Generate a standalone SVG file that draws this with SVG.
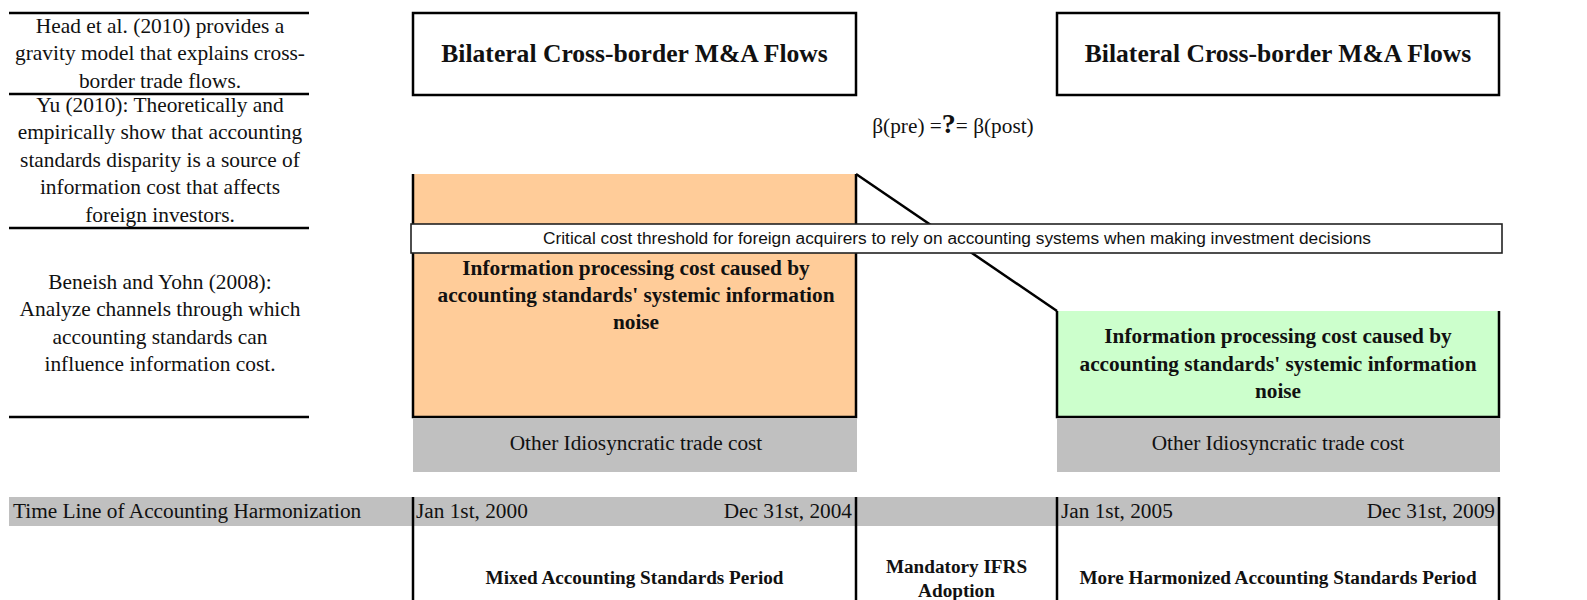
<svg xmlns="http://www.w3.org/2000/svg" width="1587" height="600" viewBox="0 0 1587 600">
  <style>
    .serif { font-family: "Liberation Serif", "Times New Roman", serif; fill: #111; }
    .note { font-size: 21.4px; text-anchor: middle; }
    .reg { font-size: 21.3px; }
    .title { font-size: 25.6px; font-weight: bold; text-anchor: middle; }
    .cost { font-size: 21.3px; font-weight: bold; text-anchor: middle; }
    .period { font-size: 19.2px; font-weight: bold; text-anchor: middle; }
    .sans { font-family: "Liberation Sans", Arial, sans-serif; font-size: 17.3px; fill: #111; text-anchor: middle; }
    .rule { stroke: #000; stroke-width: 2.5; fill: none; }
    .box { stroke: #000; stroke-width: 2.5; fill: #fff; }
    .gray { fill: #c0c0c0; }
  </style>

  <rect width="1587" height="600" fill="#fff"/>

  <!-- literature notes, left column -->
  <g id="note-head">
    <line class="rule" x1="9" y1="13" x2="309" y2="13"/>
    <text class="serif note" x="160" y="33">Head et al. (2010) provides a</text>
    <text class="serif note" x="160" y="60.3">gravity model that explains cross-</text>
    <text class="serif note" x="160" y="87.5">border trade flows.</text>
  </g>
  <g id="note-yu">
    <line class="rule" x1="9" y1="94" x2="309" y2="94"/>
    <text class="serif note" x="160" y="112">Yu (2010): Theoretically and</text>
    <text class="serif note" x="160" y="139.4">empirically show that accounting</text>
    <text class="serif note" x="160" y="166.8">standards disparity is a source of</text>
    <text class="serif note" x="160" y="194.2">information cost that affects</text>
    <text class="serif note" x="160" y="221.6">foreign investors.</text>
  </g>
  <g id="note-beneish">
    <line class="rule" x1="9" y1="228" x2="309" y2="228"/>
    <text class="serif note" x="160" y="289">Beneish and Yohn (2008):</text>
    <text class="serif note" x="160" y="316.3">Analyze channels through which</text>
    <text class="serif note" x="160" y="343.6">accounting standards can</text>
    <text class="serif note" x="160" y="371">influence information cost.</text>
    <line class="rule" x1="9" y1="417" x2="309" y2="417"/>
  </g>

  <!-- M&A flow headers -->
  <g id="flows-pre">
    <rect class="box" x="413" y="13" width="443" height="82"/>
    <text class="serif title" x="634.5" y="62.3">Bilateral Cross-border M&amp;A Flows</text>
  </g>
  <g id="flows-post">
    <rect class="box" x="1057" y="13" width="442" height="82"/>
    <text class="serif title" x="1278" y="62.3">Bilateral Cross-border M&amp;A Flows</text>
  </g>

  <!-- beta comparison -->
  <g id="beta">
    <text class="serif reg" x="953" y="133" text-anchor="middle">β(pre) =<tspan font-weight="bold" font-size="28">?</tspan>= β(post)</text>
  </g>

  <!-- information processing cost, pre-period -->
  <g id="cost-pre">
    <rect x="413" y="174" width="443" height="243" fill="#ffcc99"/>
    <polyline class="rule" points="413,174 413,417 856,417 856,174"/>
    <text class="serif cost" x="636" y="275">Information processing cost caused by</text>
    <text class="serif cost" x="636" y="302.2">accounting standards' systemic information</text>
    <text class="serif cost" x="636" y="329.3">noise</text>
  </g>

  <!-- information processing cost, post-period -->
  <g id="cost-post">
    <rect x="1057" y="311" width="442" height="106" fill="#ccffcc"/>
    <polyline class="rule" points="1057,311 1057,417 1499,417 1499,311"/>
    <text class="serif cost" x="1278" y="343.3">Information processing cost caused by</text>
    <text class="serif cost" x="1278" y="370.6">accounting standards' systemic information</text>
    <text class="serif cost" x="1278" y="397.8">noise</text>
  </g>

  <!-- idiosyncratic costs -->
  <g id="other-pre">
    <rect class="gray" x="413" y="418" width="444" height="54"/>
    <text class="serif reg" x="636" y="450" text-anchor="middle">Other Idiosyncratic trade cost</text>
  </g>
  <g id="other-post">
    <rect class="gray" x="1057" y="418" width="443" height="54"/>
    <text class="serif reg" x="1278" y="450" text-anchor="middle">Other Idiosyncratic trade cost</text>
  </g>

  <!-- drop in cost from pre to post period -->
  <g id="connectors">
    <line class="rule" x1="856" y1="174" x2="1057" y2="311"/>
  </g>

  <!-- threshold band -->
  <g id="threshold">
    <rect x="411" y="224" width="1091" height="29" fill="#fff" stroke="#222" stroke-width="1.6"/>
    <text class="sans" x="957" y="244">Critical cost threshold for foreign acquirers to rely on accounting systems when making investment decisions</text>
  </g>

  <!-- time line -->
  <g id="timeline">
    <rect class="gray" x="9" y="497" width="1490" height="29"/>
    <text class="serif reg" x="13" y="518">Time Line of Accounting Harmonization</text>
    <text class="serif reg" x="416" y="518">Jan 1st, 2000</text>
    <text class="serif reg" x="852" y="518" text-anchor="end">Dec 31st, 2004</text>
    <text class="serif reg" x="1061" y="518">Jan 1st, 2005</text>
    <text class="serif reg" x="1495" y="518" text-anchor="end">Dec 31st, 2009</text>
    <line class="rule" x1="413" y1="497" x2="413" y2="600"/>
    <line class="rule" x1="856" y1="497" x2="856" y2="600"/>
    <line class="rule" x1="1057" y1="497" x2="1057" y2="600"/>
    <line class="rule" x1="1499" y1="497" x2="1499" y2="600"/>
  </g>
  <g id="period-mixed">
    <text class="serif period" x="634.5" y="584">Mixed Accounting Standards Period</text>
  </g>
  <g id="period-adoption">
    <text class="serif period" x="956.5" y="573">Mandatory IFRS</text>
    <text class="serif period" x="956.5" y="597">Adoption</text>
  </g>
  <g id="period-harmonized">
    <text class="serif period" x="1278" y="584">More Harmonized Accounting Standards Period</text>
  </g>
</svg>
